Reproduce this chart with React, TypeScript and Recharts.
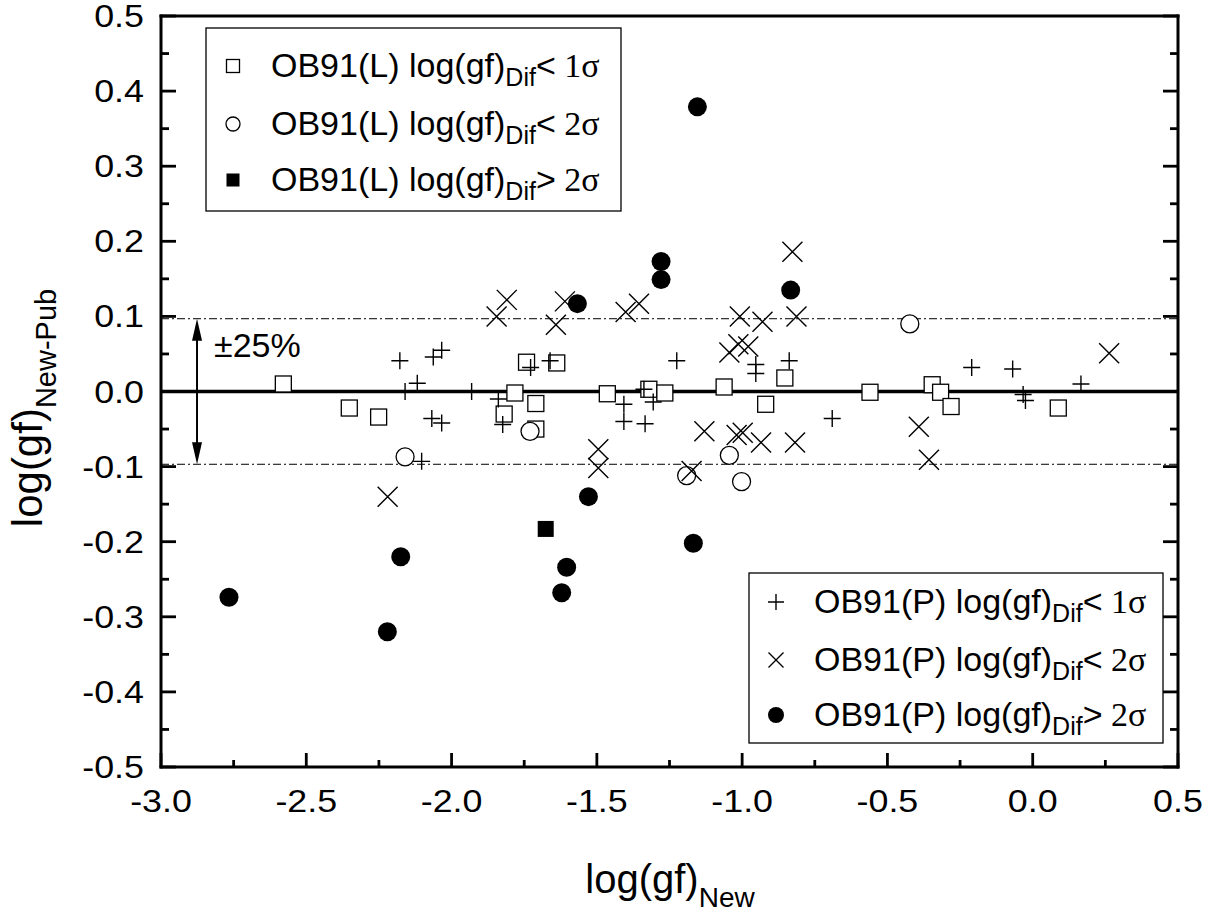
import * as React from "react";
import { ReferenceLine, Scatter, ScatterChart, XAxis, YAxis } from "recharts";

const SANS = "'Liberation Sans', Arial, Helvetica, sans-serif";
const SERIF = "'Liberation Serif', 'Times New Roman', serif";

// x = log(gf)_New, y = log(gf)_New - log(gf)_Pub
const lSig1 = [
  { x: -2.579, y: 0.010 }, { x: -2.352, y: -0.022 }, { x: -2.251, y: -0.034 },
  { x: -1.742, y: 0.039 }, { x: -1.638, y: 0.038 }, { x: -1.782, y: -0.002 },
  { x: -1.710, y: -0.016 }, { x: -1.819, y: -0.030 }, { x: -1.710, y: -0.050 },
  { x: -1.464, y: -0.003 }, { x: -1.321, y: 0.003 }, { x: -1.266, y: -0.002 },
  { x: -1.062, y: 0.006 }, { x: -0.853, y: 0.018 }, { x: -0.919, y: -0.017 },
  { x: -0.560, y: -0.001 }, { x: -0.346, y: 0.009 }, { x: -0.317, y: -0.001 },
  { x: -0.281, y: -0.020 }, { x: 0.088, y: -0.022 },
];
const lSig2 = [
  { x: -2.160, y: -0.087 }, { x: -1.730, y: -0.053 }, { x: -1.191, y: -0.112 },
  { x: -1.044, y: -0.085 }, { x: -1.002, y: -0.120 }, { x: -0.423, y: 0.090 },
];
const lOut = [{ x: -1.676, y: -0.183 }];

const pSig1 = [
  { x: -2.178, y: 0.041 }, { x: -2.118, y: 0.011 }, { x: -2.160, y: 0.000 },
  { x: -2.063, y: 0.046 }, { x: -2.034, y: 0.055 }, { x: -2.068, y: -0.036 },
  { x: -2.034, y: -0.042 }, { x: -2.103, y: -0.093 }, { x: -1.931, y: 0.000 },
  { x: -1.839, y: -0.010 }, { x: -1.824, y: -0.044 }, { x: -1.728, y: 0.032 },
  { x: -1.661, y: 0.041 }, { x: -1.338, y: 0.003 }, { x: -1.306, y: -0.014 },
  { x: -1.407, y: -0.017 }, { x: -1.407, y: -0.040 }, { x: -1.334, y: -0.043 },
  { x: -1.225, y: 0.041 }, { x: -0.953, y: 0.036 }, { x: -0.953, y: 0.024 },
  { x: -0.838, y: 0.041 }, { x: -0.690, y: -0.036 }, { x: -0.210, y: 0.032 },
  { x: -0.069, y: 0.030 }, { x: 0.166, y: 0.010 }, { x: -0.033, y: -0.004 },
  { x: -0.025, y: -0.012 },
];
const pSig2 = [
  { x: -2.220, y: -0.140 }, { x: -1.845, y: 0.100 }, { x: -1.810, y: 0.122 },
  { x: -1.610, y: 0.120 }, { x: -1.641, y: 0.089 }, { x: -1.401, y: 0.106 },
  { x: -1.355, y: 0.117 }, { x: -1.008, y: 0.100 }, { x: -0.930, y: 0.093 },
  { x: -0.813, y: 0.100 }, { x: -0.827, y: 0.186 }, { x: -1.044, y: 0.052 },
  { x: -1.013, y: 0.063 }, { x: -0.979, y: 0.060 }, { x: -1.130, y: -0.053 },
  { x: -1.019, y: -0.058 }, { x: -0.998, y: -0.055 }, { x: -0.935, y: -0.068 },
  { x: -0.818, y: -0.068 }, { x: -1.495, y: -0.077 }, { x: -1.495, y: -0.102 },
  { x: -1.174, y: -0.106 }, { x: 0.263, y: 0.051 }, { x: -0.392, y: -0.047 },
  { x: -0.357, y: -0.091 },
];
const pOut = [
  { x: -2.766, y: -0.274 }, { x: -2.221, y: -0.320 }, { x: -2.175, y: -0.220 },
  { x: -1.567, y: 0.117 }, { x: -1.279, y: 0.173 }, { x: -1.279, y: 0.149 },
  { x: -1.154, y: 0.379 }, { x: -0.833, y: 0.135 }, { x: -1.529, y: -0.140 },
  { x: -1.604, y: -0.234 }, { x: -1.621, y: -0.268 }, { x: -1.168, y: -0.202 },
];

const X_TICKS = [-3, -2.75, -2.5, -2.25, -2, -1.75, -1.5, -1.25, -1, -0.75, -0.5, -0.25, 0, 0.25, 0.5];
const Y_TICKS = [
  -0.5, -0.45, -0.4, -0.35, -0.3, -0.25, -0.2, -0.15, -0.1, -0.05, 0,
  0.05, 0.1, 0.15, 0.2, 0.25, 0.3, 0.35, 0.4, 0.45, 0.5,
];
const BAND = 0.0969; // log10(1.25) -> ±25%

const FRAME = { stroke: "#000", strokeWidth: 3, strokeLinecap: "square" as const };
const isMajor = (v: number, step: number) => Math.abs(v / step - Math.round(v / step)) < 1e-6;

// markers
const OpenSquare = ({ cx, cy, s = 16 }: any) => (
  <rect x={cx - s / 2} y={cy - s / 2} width={s} height={s} fill="#fff" stroke="#000" strokeWidth={1.3} />
);
const FilledSquare = ({ cx, cy, s = 16 }: any) => (
  <rect x={cx - s / 2} y={cy - s / 2} width={s} height={s} fill="#000" />
);
const OpenCircle = ({ cx, cy, s = 18 }: any) => (
  <circle cx={cx} cy={cy} r={s / 2} fill="#fff" stroke="#000" strokeWidth={1.3} />
);
const FilledCircle = ({ cx, cy, s = 19 }: any) => <circle cx={cx} cy={cy} r={s / 2} fill="#000" />;
const Plus = ({ cx, cy, s = 17 }: any) => (
  <path d={`M${cx - s / 2},${cy}H${cx + s / 2}M${cx},${cy - s / 2}V${cy + s / 2}`} stroke="#000" strokeWidth={1.4} />
);
const Cross = ({ cx, cy, s = 20 }: any) => (
  <path
    d={`M${cx - s / 2},${cy - s / 2}L${cx + s / 2},${cy + s / 2}M${cx - s / 2},${cy + s / 2}L${cx + s / 2},${cy - s / 2}`}
    stroke="#000"
    strokeWidth={1.4}
  />
);

// ticks (inward on all four sides)
function BottomTick({ x, y, payload }: any) {
  const major = isMajor(payload.value, 0.5);
  return (
    <g>
      <line x1={x} y1={y} x2={x} y2={y - (major ? 14 : 7)} stroke="#000" strokeWidth={2.8} />
      {major && (
        <text transform={`translate(${x},${y + 45}) scale(1.12,1)`} textAnchor="middle" fontSize={32} fontFamily={SANS} fill="#000">
          {payload.value.toFixed(1)}
        </text>
      )}
    </g>
  );
}
function TopTick({ x, y, payload }: any) {
  const major = isMajor(payload.value, 0.5);
  return <line x1={x} y1={y} x2={x} y2={y + (major ? 14 : 7)} stroke="#000" strokeWidth={2.8} />;
}
function LeftTick({ x, y, payload }: any) {
  const major = isMajor(payload.value, 0.1);
  return (
    <g>
      <line x1={x} y1={y} x2={x + (major ? 15 : 8)} y2={y} stroke="#000" strokeWidth={2.8} />
      {major && (
        <text transform={`translate(${x - 17},${y + 11}) scale(1.12,1)`} textAnchor="end" fontSize={32} fontFamily={SANS} fill="#000">
          {payload.value.toFixed(1)}
        </text>
      )}
    </g>
  );
}
function RightTick({ x, y, payload }: any) {
  const major = isMajor(payload.value, 0.1);
  return <line x1={x} y1={y} x2={x - (major ? 15 : 8)} y2={y} stroke="#000" strokeWidth={2.8} />;
}

function Arrow({ x1, y1, y2 }: any) {
  const top = Math.min(y1, y2);
  const bot = Math.max(y1, y2);
  return (
    <g>
      <line x1={x1} y1={top + 15} x2={x1} y2={bot - 15} stroke="#000" strokeWidth={2} />
      <polygon points={`${x1},${top} ${x1 - 5},${top + 22} ${x1 + 5},${top + 22}`} fill="#000" />
      <polygon points={`${x1},${bot} ${x1 - 5},${bot - 22} ${x1 + 5},${bot - 22}`} fill="#000" />
      <text x={x1 + 17} y={top + 38} fontSize={34} fontFamily={SANS} fill="#000">±25%</text>
    </g>
  );
}

function LegendLabel({ x, y, src, cmp, n }: any) {
  return (
    <text x={x} y={y} fontSize={34} fontFamily={SANS} fill="#000">
      {`OB91(${src}) log(gf)`}
      <tspan fontSize={25} dy={9}>Dif</tspan>
      <tspan dy={-9}>{cmp}</tspan>
      <tspan fontFamily={SERIF}>{` ${n}σ`}</tspan>
    </text>
  );
}

const legendL = [
  { y: 66, mark: <OpenSquare cx={233} cy={66} s={13} />, cmp: "<", n: 1 },
  { y: 124, mark: <OpenCircle cx={233} cy={124} s={14} />, cmp: "<", n: 2 },
  { y: 180, mark: <FilledSquare cx={233} cy={180} s={13} />, cmp: ">", n: 2 },
];
const legendP = [
  { y: 602, mark: <Plus cx={776} cy={602} s={16} />, cmp: "<", n: 1 },
  { y: 660, mark: <Cross cx={776} cy={660} s={15} />, cmp: "<", n: 2 },
  { y: 715, mark: <FilledCircle cx={776} cy={715} s={16} />, cmp: ">", n: 2 },
];

export default function App() {
  const axisCommon = { type: "number" as const, tickLine: false, tickSize: 0, tickMargin: 0, interval: 0 as const, axisLine: FRAME, allowDataOverflow: true };
  return (
    <div style={{ position: "absolute", left: 0, top: 0, width: 1209, height: 915, background: "#fff" }}>
      <ScatterChart width={1209} height={915} margin={{ top: 6, right: 21, bottom: 98, left: 101 }}>
        <XAxis xAxisId="b" dataKey="x" domain={[-3, 0.5]} ticks={X_TICKS} tick={<BottomTick />} height={50} {...axisCommon} />
        <XAxis xAxisId="t" orientation="top" domain={[-3, 0.5]} ticks={X_TICKS} tick={<TopTick />} height={10} {...axisCommon} />
        <YAxis yAxisId="l" dataKey="y" domain={[-0.5, 0.5]} ticks={Y_TICKS} tick={<LeftTick />} width={60} {...axisCommon} />
        <YAxis yAxisId="r" orientation="right" domain={[-0.5, 0.5]} ticks={Y_TICKS} tick={<RightTick />} width={10} {...axisCommon} />

        <ReferenceLine xAxisId="b" yAxisId="l" y={BAND} stroke="#000" strokeWidth={1} strokeDasharray="8 3 2 3" />
        <ReferenceLine xAxisId="b" yAxisId="l" y={-BAND} stroke="#000" strokeWidth={1} strokeDasharray="8 3 2 3" />
        <ReferenceLine xAxisId="b" yAxisId="l" y={0} stroke="#000" strokeWidth={3.5} />
        <ReferenceLine
          xAxisId="b"
          yAxisId="l"
          segment={[{ x: -2.876, y: BAND }, { x: -2.876, y: -BAND }]}
          shape={(p: any) => <Arrow {...p} />}
        />

        <Scatter xAxisId="b" yAxisId="l" data={lSig1} isAnimationActive={false} shape={(p: any) => <OpenSquare cx={p.cx} cy={p.cy} />} />
        <Scatter xAxisId="b" yAxisId="l" data={pSig1} isAnimationActive={false} shape={(p: any) => <Plus cx={p.cx} cy={p.cy} />} />
        <Scatter xAxisId="b" yAxisId="l" data={lSig2} isAnimationActive={false} shape={(p: any) => <OpenCircle cx={p.cx} cy={p.cy} />} />
        <Scatter xAxisId="b" yAxisId="l" data={pSig2} isAnimationActive={false} shape={(p: any) => <Cross cx={p.cx} cy={p.cy} />} />
        <Scatter xAxisId="b" yAxisId="l" data={lOut} isAnimationActive={false} shape={(p: any) => <FilledSquare cx={p.cx} cy={p.cy} />} />
        <Scatter xAxisId="b" yAxisId="l" data={pOut} isAnimationActive={false} shape={(p: any) => <FilledCircle cx={p.cx} cy={p.cy} />} />
      </ScatterChart>

      {/* legends and axis titles */}
      <svg width={1209} height={915} style={{ position: "absolute", left: 0, top: 0, pointerEvents: "none" }}>
        <rect x={206} y={28} width={415} height={183} fill="#fff" stroke="#000" strokeWidth={1.3} />
        {legendL.map((r, i) => (
          <g key={i}>
            {r.mark}
            <LegendLabel x={271} y={r.y + 11} src="L" cmp={r.cmp} n={r.n} />
          </g>
        ))}
        <rect x={749} y={573} width={414} height={170} fill="#fff" stroke="#000" strokeWidth={1.3} />
        {legendP.map((r, i) => (
          <g key={i}>
            {r.mark}
            <LegendLabel x={814} y={r.y + 11} src="P" cmp={r.cmp} n={r.n} />
          </g>
        ))}

        <text x={670} y={893} textAnchor="middle" fontSize={40} fontFamily={SANS} fill="#000">
          log(gf)<tspan fontSize={28} dy={14}>New</tspan>
        </text>
        <text transform="translate(42,408) rotate(-90)" textAnchor="middle" fontSize={42} fontFamily={SANS} fill="#000">
          log(gf)<tspan fontSize={29} dy={14}>New-Pub</tspan>
        </text>
      </svg>
    </div>
  );
}
